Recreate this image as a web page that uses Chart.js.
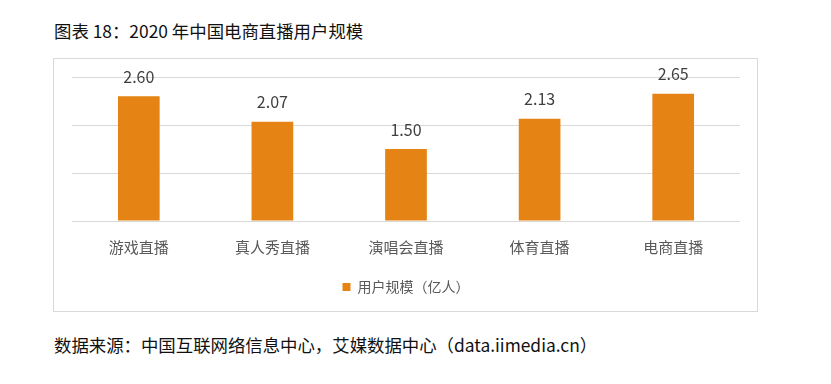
<!DOCTYPE html>
<html>
<head>
<meta charset="utf-8">
<script src="https://cdn.jsdelivr.net/npm/chart.js@4/dist/chart.umd.min.js"></script>
<style>
  html, body { margin: 0; padding: 0; background: #ffffff; }
  body { width: 831px; height: 384px; position: relative; overflow: hidden; font-family: "Noto Sans CJK SC", "Noto Sans", sans-serif; }
  #title, #source { position: absolute; left: 54px; font-size: 17.4px; color: #111; white-space: nowrap; line-height: 20px; }
  #title { top: 21px; }
  #source { top: 335px; }
  #c { position: absolute; left: 0; top: 0; }
</style>
</head>
<body>
<div id="title">图表 18：2020 年中国电商直播用户规模</div>
<div id="source">数据来源：中国互联网络信息中心，艾媒数据中心（data.iimedia.cn）</div>
<canvas id="c" width="831" height="384"></canvas>
<script>
const categories = ['游戏直播', '真人秀直播', '演唱会直播', '体育直播', '电商直播'];
const seriesName = '用户规模（亿人）';
const userScale = [2.60, 2.07, 1.50, 2.13, 2.65];
const yTicks = [0, 1, 2, 3];

const FONT = '"Noto Sans CJK SC", "Noto Sans", sans-serif';

const frame = {
  id: 'frame',
  beforeDraw(chart) {
    const ctx = chart.ctx;
    ctx.save();
    ctx.strokeStyle = '#d9d9d9';
    ctx.lineWidth = 1;
    ctx.strokeRect(53.5, 58.5, 704, 253);
    ctx.restore();
  }
};

const valueLabels = {
  id: 'valueLabels',
  afterDatasetsDraw(chart) {
    const ctx = chart.ctx;
    const meta = chart.getDatasetMeta(0);
    ctx.save();
    ctx.font = '16px ' + FONT;
    ctx.fillStyle = '#404040';
    ctx.textAlign = 'center';
    ctx.textBaseline = 'middle';
    meta.data.forEach((bar, i) => {
      ctx.fillText(userScale[i].toFixed(2), bar.x, bar.y - 19.5);
    });
    ctx.restore();
  }
};

new Chart(document.getElementById('c'), {
  type: 'bar',
  data: {
    labels: categories,
    datasets: [{
      label: seriesName,
      data: userScale,
      backgroundColor: '#E58314',
      borderWidth: 0,
      categoryPercentage: 1,
      barPercentage: 0.312
    }]
  },
  options: {
    responsive: false,
    animation: false,
    layout: { padding: { left: 72, right: 91, top: 77, bottom: 80 } },
    scales: {
      x: {
        grid: { display: false, drawTicks: false },
        border: { display: false },
        ticks: { color: '#595959', font: { family: FONT, size: 15 }, padding: 17 },
        afterFit(s) { s.height = 49; }
      },
      y: {
        min: yTicks[0],
        max: yTicks[yTicks.length - 1],
        afterBuildTicks(s) { s.ticks = yTicks.map(v => ({ value: v })); },
        grid: { color: '#d9d9d9', drawTicks: false, lineWidth: 1 },
        border: { display: false },
        ticks: { display: false }
      }
    },
    plugins: {
      legend: {
        position: 'bottom',
        labels: {
          boxWidth: 8,
          boxHeight: 8,
          padding: 10,
          color: '#595959',
          font: { family: FONT, size: 14 }
        }
      },
      tooltip: { enabled: false }
    }
  },
  plugins: [frame, valueLabels]
});
</script>
</body>
</html>
